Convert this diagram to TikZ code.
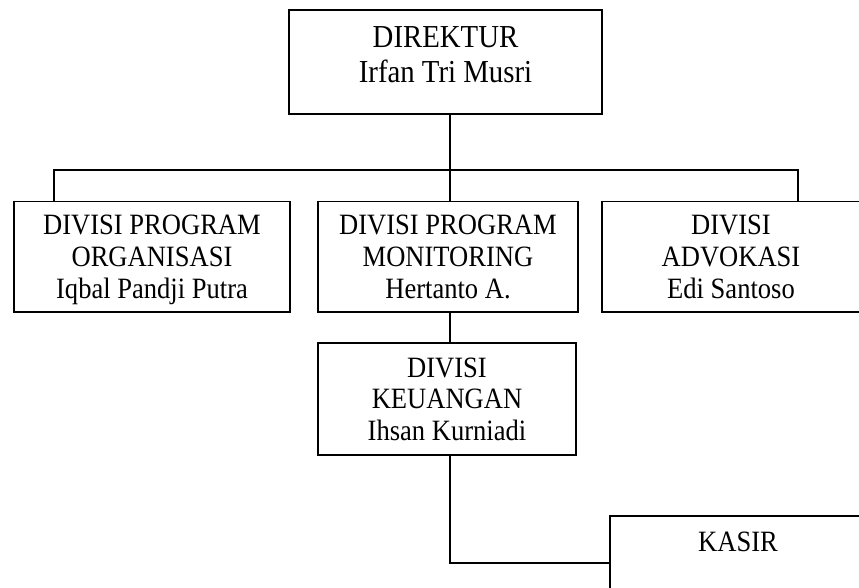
\documentclass[tikz,border=0pt]{standalone}
\usepackage{fontspec}
\setmainfont{Liberation Serif}
\newfontfamily\chartfont[FakeStretch=0.9]{Liberation Serif}
\begin{document}
\begin{tikzpicture}[x=1pt,y=-1pt,
  unitbox/.style={draw,line width=1.5pt,rectangle,align=center,inner sep=0pt,
    text depth=0pt,font=\chartfont\fontsize{29.5}{31.7}\selectfont},
  headbox/.style={unitbox,text depth=14pt,font=\chartfont\fontsize{32}{35}\selectfont},
  link/.style={line width=1.5pt}]
\useasboundingbox (0,0) rectangle (859,588);
\begin{scope}
\clip (0,0) rectangle (859,588);
% boxes
\node[headbox,minimum width=313,minimum height=104] (dir) at (445.5,62) {DIREKTUR\\Irfan Tri Musri};
\node[unitbox,minimum width=276,minimum height=110.3] (org) at (152,256.85) {DIVISI PROGRAM\\ORGANISASI\\Iqbal Pandji Putra};
\node[unitbox,minimum width=260,minimum height=110.3] (mon) at (448,256.85) {DIVISI PROGRAM\\MONITORING\\Hertanto A.};
\node[unitbox,minimum width=258,minimum height=110.3] (adv) at (731,256.85) {DIVISI\\ADVOKASI\\Edi Santoso};
\node[unitbox,minimum width=258,minimum height=112] (keu) at (447,399) {DIVISI\\KEUANGAN\\Ihsan Kurniadi};
\node[unitbox,text depth=58.6pt,minimum width=256,minimum height=110] (kas) at (738,571) {KASIR};
% connectors
\coordinate (busL) at (54,170);
\coordinate (busR) at (798,170);
\coordinate (spine) at (450,170);
\coordinate (elbow) at (450,563);
\draw[link] (org.north -| busL) -- (busL) -- (busR) -- (adv.north -| busR);
\draw[link] (dir.south -| spine) -- (mon.north -| spine);
\draw[link] (mon.south -| spine) -- (keu.north -| spine);
\draw[link] (keu.south -| elbow) -- (elbow) -- (kas.west |- elbow);
\end{scope}
\end{tikzpicture}
\end{document}
